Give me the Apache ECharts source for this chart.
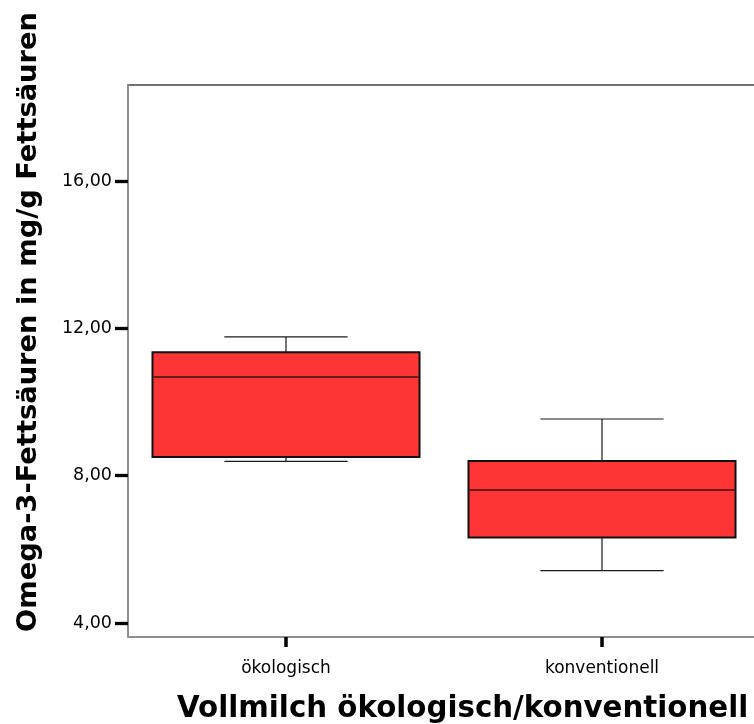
<!DOCTYPE html>
<html>
<head>
<meta charset="utf-8">
<script src="https://cdn.jsdelivr.net/npm/echarts@6/dist/echarts.min.js"></script>
<style>
html,body{margin:0;padding:0;background:#fff;overflow:hidden;}
#chart{width:780px;height:724px;}
</style>
</head>
<body>
<div id="chart"></div>
<script>
const categories = ['ökologisch', 'konventionell'];
const minVals = [8.39, 5.42];
const q1Vals = [8.51, 6.32];
const medianVals = [10.68, 7.61];
const q3Vals = [11.35, 8.40];
const maxVals = [11.77, 9.54];
const yTickValues = [4, 8, 12, 16];
const yTickLabels = ['4,00', '8,00', '12,00', '16,00'];
const yTitle = 'Omega-3-Fettsäuren in mg/g Fettsäuren';
const xTitle = 'Vollmilch ökologisch/konventionell';

const boxData = categories.map((c, i) => [i, minVals[i], q1Vals[i], medianVals[i], q3Vals[i], maxVals[i]]);

const chart = echarts.init(document.getElementById('chart'), null, {renderer: 'canvas'});

function renderBox(params, api) {
  const xi = api.value(0);
  const band = api.size([1, 0])[0];
  const boxW = band * 0.845;
  const capW = band * 0.39;
  const pMin = api.coord([xi, api.value(1)]);
  const pQ1 = api.coord([xi, api.value(2)]);
  const pMed = api.coord([xi, api.value(3)]);
  const pQ3 = api.coord([xi, api.value(4)]);
  const pMax = api.coord([xi, api.value(5)]);
  const cx = pMed[0];
  const wStyle = {stroke: '#1a1a1a', lineWidth: 1.2};
  return {
    type: 'group',
    children: [
      {type: 'line', shape: {x1: cx, y1: pMax[1], x2: cx, y2: pQ3[1]}, style: wStyle},
      {type: 'line', shape: {x1: cx, y1: pQ1[1], x2: cx, y2: pMin[1]}, style: wStyle},
      {type: 'line', shape: {x1: cx - capW / 2, y1: pMax[1], x2: cx + capW / 2, y2: pMax[1]}, style: wStyle},
      {type: 'line', shape: {x1: cx - capW / 2, y1: pMin[1], x2: cx + capW / 2, y2: pMin[1]}, style: wStyle},
      {type: 'rect', shape: {x: cx - boxW / 2, y: pQ3[1], width: boxW, height: pQ1[1] - pQ3[1]},
        style: {fill: '#FF3434', stroke: '#111111', lineWidth: 2}},
      {type: 'line', shape: {x1: cx - boxW / 2 + 1, y1: pMed[1], x2: cx + boxW / 2 - 1, y2: pMed[1]},
        style: {stroke: '#3a1212', lineWidth: 1.5}}
    ]
  };
}

chart.setOption({
  animation: false,
  backgroundColor: '#ffffff',
  grid: {
    left: 128, top: 85, width: 632, height: 552,
    show: true, borderColor: '#444444', borderWidth: 1.5, backgroundColor: 'transparent'
  },
  xAxis: {
    type: 'category',
    data: categories,
    boundaryGap: true,
    axisLine: {show: true, lineStyle: {color: '#999999', width: 1.5}},
    axisTick: {show: true, alignWithLabel: true, length: 10, lineStyle: {color: '#000', width: 3.5}},
    axisLabel: {margin: 23, fontSize: 17, fontFamily: 'DejaVu Sans', color: '#000'},
    splitLine: {show: false}
  },
  yAxis: {
    type: 'value',
    min: 3.62,
    max: 18.61,
    axisLine: {show: true, lineStyle: {color: '#999999', width: 1.5}},
    axisTick: {show: true, length: 13, customValues: yTickValues, lineStyle: {color: '#000', width: 3.3}},
    axisLabel: {
      margin: 16, fontSize: 17.5, fontFamily: 'DejaVu Sans', color: '#000',
      customValues: yTickValues,
      formatter: function (v) {
        const i = yTickValues.indexOf(Math.round(v));
        return i >= 0 ? yTickLabels[i] : '';
      }
    },
    splitLine: {show: false}
  },
  graphic: [
    {type: 'text', x: 29, y: 322, rotation: Math.PI / 2,
      style: {text: yTitle, textAlign: 'center', textVerticalAlign: 'middle',
        font: 'bold 27.3px "DejaVu Sans"', fill: '#000'}},
    {type: 'text', x: 177, y: 709,
      style: {text: xTitle, textAlign: 'left', textVerticalAlign: 'middle',
        font: 'bold 29.3px "DejaVu Sans"', fill: '#000'}}
  ],
  series: [{
    type: 'custom',
    renderItem: renderBox,
    encode: {x: 0, y: [1, 2, 3, 4, 5]},
    data: boxData
  }]
});
</script>
</body>
</html>
